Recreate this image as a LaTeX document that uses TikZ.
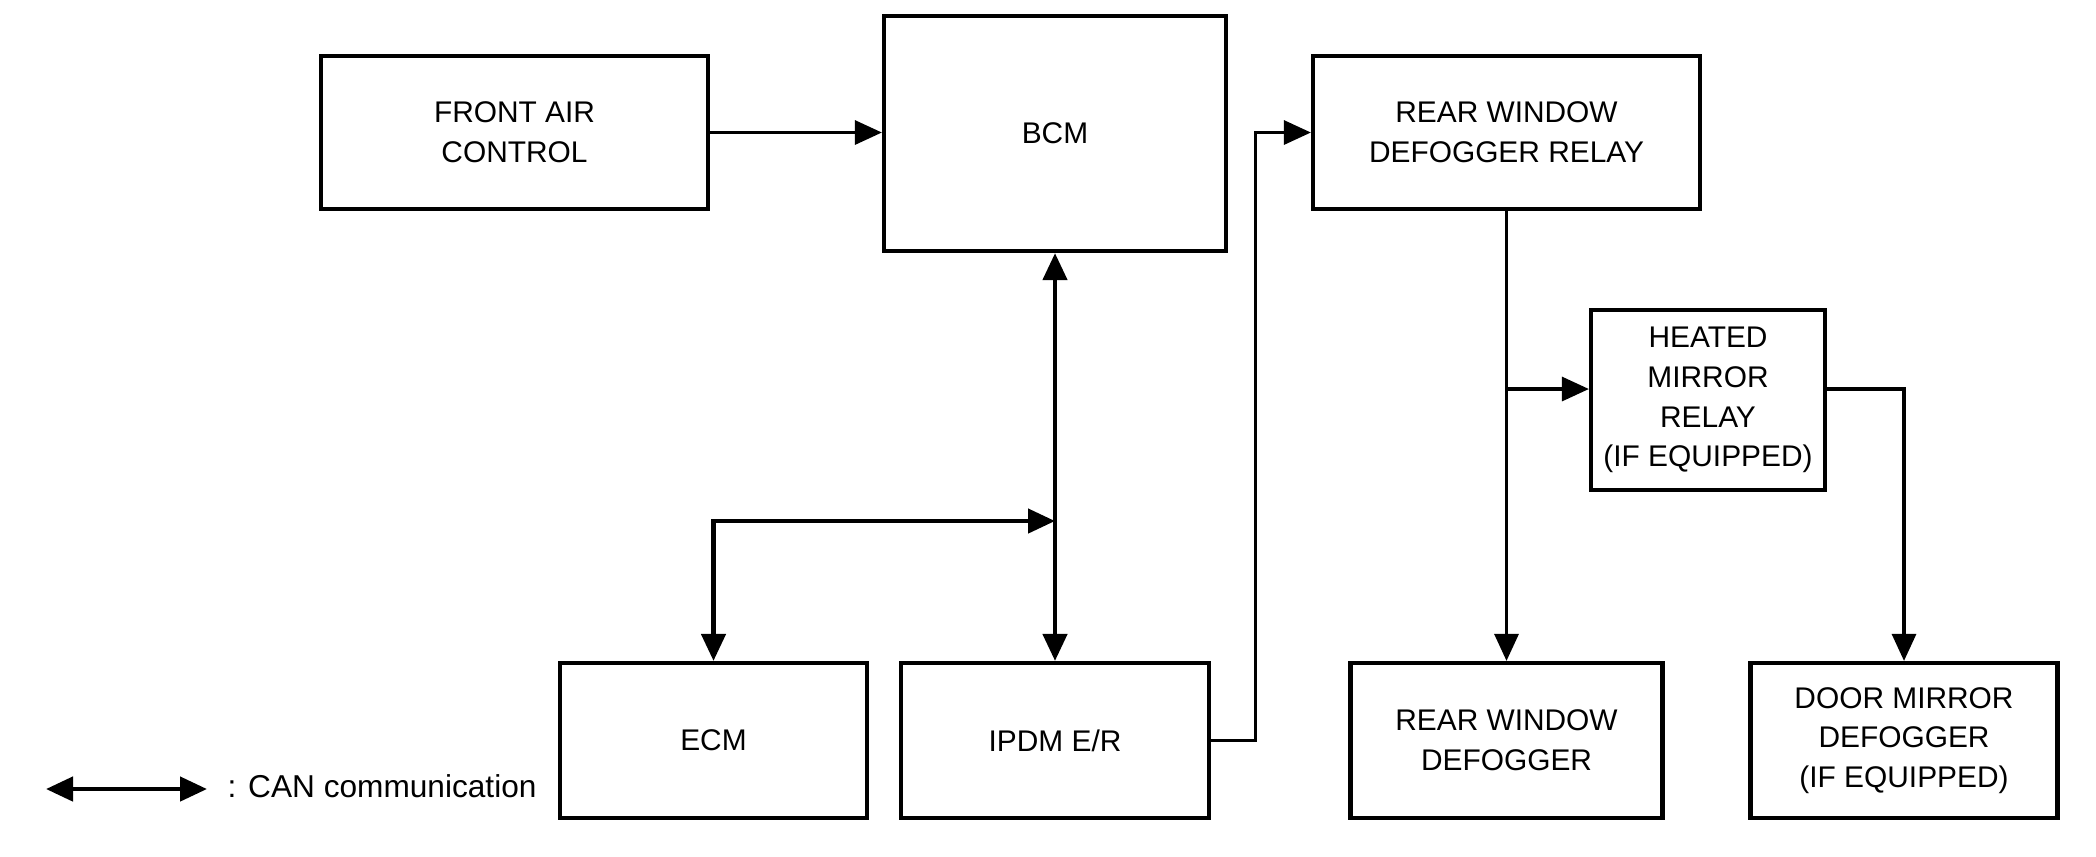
\documentclass[tikz,border=0pt]{standalone}
\usepackage{fontspec}
\setmainfont{Liberation Sans}
\usetikzlibrary{arrows.meta}
\tikzset{
  unit/.style={draw, line width=1.2pt, align=center, inner sep=0pt,
    font=\fontsize{8.5}{11.3}\selectfont},
  sig/.style={line width=0.9pt, -{Triangle[length=2.7mm,width=2.4mm]}},
  can/.style={line width=1.3pt, {Triangle[length=2.7mm,width=2.4mm]}-{Triangle[length=2.7mm,width=2.4mm]}}
}

\begin{document}
\begin{tikzpicture}
				%%%%% START %%%%%
				\useasboundingbox (0, 0) rectangle (20.96, -8.56);
				
				\node[unit, minimum width=3.87cm, minimum height=1.53cm] (front) at (5.145, -1.325) {FRONT AIR\\CONTROL};
				\node[unit, minimum width=3.42cm, minimum height=2.35cm] (bcm) at (10.55, -1.335) {BCM};
				\node[unit, minimum width=3.87cm, minimum height=1.53cm] (relay) at (15.065, -1.325) {REAR WINDOW\\DEFOGGER RELAY};
				\node[unit, minimum width=2.34cm, minimum height=1.80cm] (heated) at (17.08, -4.00) {HEATED\\MIRROR\\RELAY\\(IF EQUIPPED)};
				
				\node[unit, minimum width=3.07cm, minimum height=1.55cm] (ecm) at (7.135, -7.405) {ECM};
				\node[unit, minimum width=3.08cm, minimum height=1.55cm] (ipdm) at (10.55, -7.405) {IPDM E/R};
				\node[unit, minimum width=3.12cm, minimum height=1.55cm] (reardef) at (15.065, -7.405) {REAR WINDOW\\DEFOGGER};
				\node[unit, minimum width=3.07cm, minimum height=1.55cm] (door) at (19.04, -7.405) {DOOR MIRROR\\DEFOGGER\\(IF EQUIPPED)};
				
				\draw[sig] (front.east) -- (front.east -| bcm.west);
				
				\draw[can] (bcm.south) -- (ipdm.north);
				\coordinate (canjn) at (10.55, -5.21);
				\draw[can] (ecm.north) |- (canjn);
				
				\draw[sig] (ipdm.east) -- ++(0.44, 0) |- (relay.west);
				\draw[sig] (relay.south) -- (reardef.north);
				
				\coordinate (tap) at (15.065, -3.89);
				\draw[sig] (tap) -- (tap -| heated.west);
				\draw[sig] (tap -| heated.east) -| (door.north);
				
				\coordinate (lgA) at (0.46, -7.89);
				\coordinate (lgB) at (2.07, -7.89);
				\draw[can] (lgA) -- (lgB);
				\node[anchor=west, inner sep=0pt, font=\fontsize{9}{11}\selectfont] (lgtxt) at (2.27, -7.86) {: CAN communication};
				%%%%% END %%%%%
\end{tikzpicture}
\end{document}
